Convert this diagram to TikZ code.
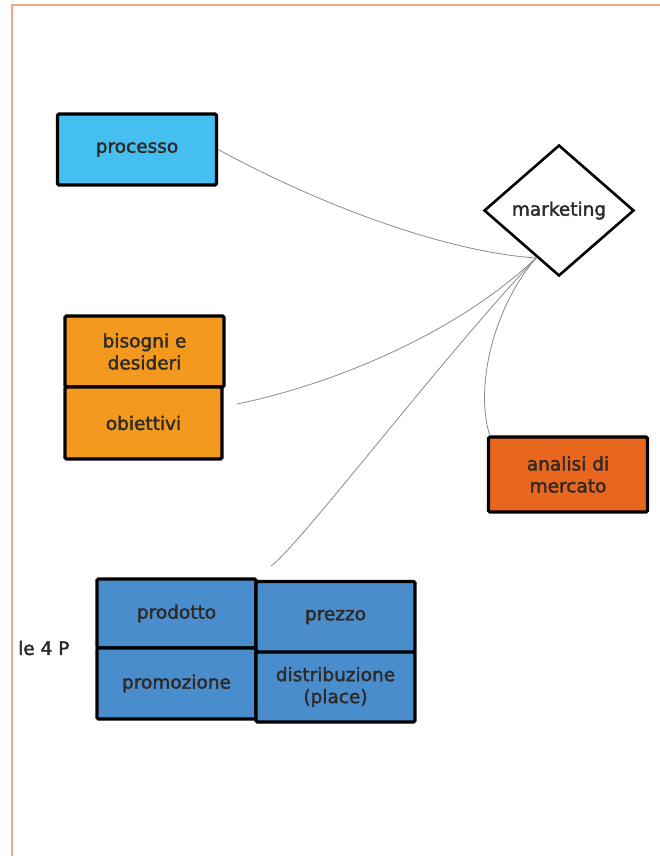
\documentclass[tikz,border=0pt]{standalone}
\usepackage{fontspec}
\setmainfont{DejaVu Sans}[BoldFont=DejaVu Sans, BoldFeatures={FakeBold=2}]
\usetikzlibrary{shapes.geometric}
\definecolor{frameor}{HTML}{F0A585}
\definecolor{cyanbox}{HTML}{45BFEF}
\definecolor{orbox}{HTML}{F39A1E}
\definecolor{redbox}{HTML}{E8661E}
\definecolor{bluebox}{HTML}{4A8DCC}
\definecolor{txt}{HTML}{2E2A28}
\definecolor{conn}{HTML}{8A8A8A}
\tikzset{
  lbl/.style={text=txt, font=\fontsize{18.5}{22}\selectfont\bfseries},
  box/.style={lbl, draw=black, line width=3.2pt, rounded corners=1.5pt, minimum width=159pt, minimum height=71pt, inner sep=2pt, align=center},
  link/.style={draw=conn, line width=0.8pt},
}
\begin{document}
\begin{tikzpicture}[x=1pt,y=-1pt]
\useasboundingbox (0,0) rectangle (660,856);
\fill[white] (0,0) rectangle (660,856);
\draw[frameor, line width=2pt] (660,5) -- (12,5) -- (12,856);

\node[box, fill=cyanbox] (processo) at (137,149.5) {processo};
\node[lbl, draw=black, line width=2.6pt, diamond, aspect=1.15, minimum width=150pt, minimum height=131pt, inner sep=0pt] (marketing) at (559,210.5) {marketing};

\node[box, fill=orbox] (bisogni) at (144.5,351.5) {bisogni e\\desideri};
\node[box, fill=orbox, minimum width=157pt, minimum height=72pt] (obiettivi) at (143.5,423) {obiettivi};

\node[box, fill=redbox, minimum height=75pt] (analisi) at (568,474.5) {analisi di\\mercato};

\node[box, fill=bluebox, minimum height=69pt] (prodotto) at (176.5,613.5) {prodotto};
\node[box, fill=bluebox] (prezzo) at (335.5,617) {prezzo};
\node[box, fill=bluebox, minimum height=71pt] (promozione) at (176.5,683.5) {promozione};
\node[box, fill=bluebox, minimum height=70pt] (distribuzione) at (335.5,687) {distribuzione\\(place)};

\node[lbl, anchor=west, inner sep=0pt] (le4p) at (18,648) {le 4 P};

\coordinate (hub) at (536,258);
\coordinate (obend) at (237,404);
\coordinate (pend) at (271,566);
\coordinate (anend) at (490,436);

\draw[link] (processo.east) .. controls (330,210) and (450,252) .. (hub);
\draw[link] (obend) .. controls (330,385) and (455,335) .. (hub);
\draw[link] (pend) .. controls (300,545) and (440,360) .. (hub);
\draw[link] (anend) .. controls (476,395) and (488,315) .. (hub);
\end{tikzpicture}
\end{document}
